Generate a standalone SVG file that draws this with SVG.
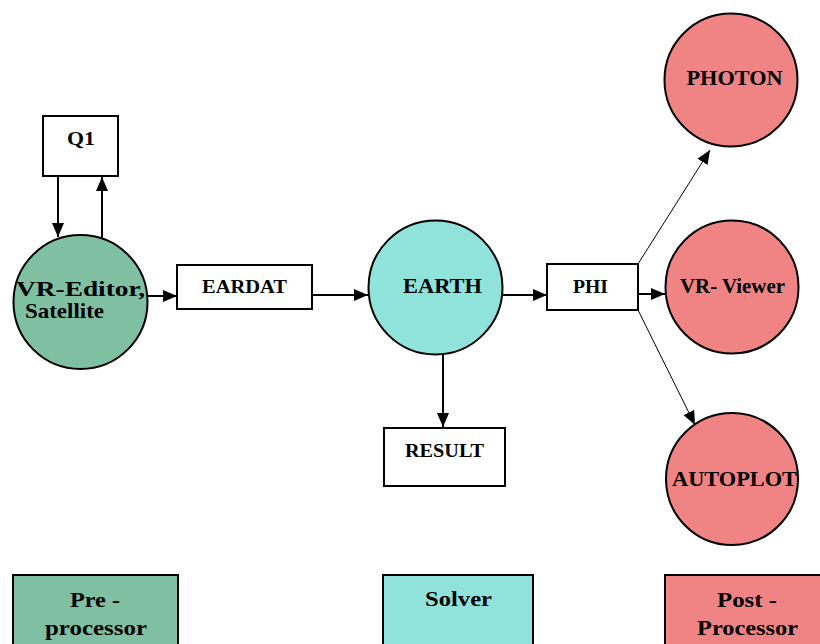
<svg xmlns="http://www.w3.org/2000/svg" width="820" height="644" viewBox="0 0 820 644" font-family="'Liberation Serif', 'DejaVu Serif', serif">
<style>
text{font-family:'Liberation Serif','DejaVu Serif',serif;font-weight:bold;fill:#000}
.box{fill:#fff;stroke:#000;stroke-width:2}
.pre{fill:#80c0a2;stroke:#000;stroke-width:2}
.sol{fill:#8fe3da;stroke:#000;stroke-width:2}
.post{fill:#f08484;stroke:#000;stroke-width:2}
.c{stroke:#000;stroke-width:2;fill:none}
.t{stroke:#000;stroke-width:1;fill:none}
.s{font-size:19px}
.m{font-size:21px}
.l{font-size:21px}
.v{font-size:21px}
</style>
<defs>
<marker id="ah" markerUnits="userSpaceOnUse" markerWidth="14" markerHeight="14" viewBox="0 0 14 14" refX="14" refY="7" orient="auto">
<path d="M0,1 L14,7 L0,13 Z" fill="#000"/>
</marker>
</defs>
<g id="connectors">
<line class="c" x1="58" y1="176" x2="58" y2="237" marker-end="url(#ah)"/>
<line class="c" x1="102" y1="239" x2="102" y2="177" marker-end="url(#ah)"/>
<line class="c" x1="147" y1="296" x2="177" y2="296" marker-end="url(#ah)"/>
<line class="c" x1="313" y1="295" x2="368" y2="295" marker-end="url(#ah)"/>
<line class="c" x1="503" y1="295" x2="547" y2="295" marker-end="url(#ah)"/>
<line class="c" x1="443" y1="355" x2="443" y2="427" marker-end="url(#ah)"/>
<line class="t" x1="638" y1="264" x2="710" y2="150" marker-end="url(#ah)"/>
<line class="c" x1="638" y1="294" x2="665" y2="294" marker-end="url(#ah)"/>
<line class="t" x1="638" y1="310" x2="695" y2="425" marker-end="url(#ah)"/>
</g>
<g id="q1">
<rect class="box" x="43" y="116" width="75" height="60"/>
<text class="s" x="81" y="145" text-anchor="middle" textLength="28" lengthAdjust="spacingAndGlyphs">Q1</text>
</g>
<g id="vr-editor">
<circle class="pre" cx="80.5" cy="302" r="67"/>
<text class="v" x="16" y="296" textLength="129" lengthAdjust="spacingAndGlyphs">VR-Editor,</text>
<text class="v" x="25" y="318" textLength="79" lengthAdjust="spacingAndGlyphs">Satellite</text>
</g>
<g id="eardat">
<rect class="box" x="177" y="265" width="135" height="44"/>
<text class="s" x="244.5" y="293" text-anchor="middle" textLength="85" lengthAdjust="spacingAndGlyphs">EARDAT</text>
</g>
<g id="earth">
<circle class="sol" cx="435.5" cy="287.5" r="67"/>
<text font-size="22" x="442.5" y="293" text-anchor="middle" textLength="79" lengthAdjust="spacingAndGlyphs">EARTH</text>
</g>
<g id="phi">
<rect class="box" x="547" y="264" width="91" height="46"/>
<text class="s" x="590.5" y="293" text-anchor="middle" textLength="35" lengthAdjust="spacingAndGlyphs">PHI</text>
</g>
<g id="result">
<rect class="box" x="384" y="428" width="121" height="58"/>
<text class="s" x="444.5" y="457" text-anchor="middle" textLength="79" lengthAdjust="spacingAndGlyphs">RESULT</text>
</g>
<g id="photon">
<circle class="post" cx="731" cy="80" r="66.5"/>
<text class="m" x="734.5" y="85" text-anchor="middle" textLength="96" lengthAdjust="spacingAndGlyphs">PHOTON</text>
</g>
<g id="vr-viewer">
<circle class="post" cx="732" cy="287" r="66.5"/>
<text class="m" x="732.5" y="293" text-anchor="middle" textLength="105" lengthAdjust="spacingAndGlyphs">VR- Viewer</text>
</g>
<g id="autoplot">
<circle class="post" cx="732" cy="479" r="66"/>
<text class="m" x="734.5" y="486" text-anchor="middle" textLength="125" lengthAdjust="spacingAndGlyphs">AUTOPLOT</text>
</g>
<g id="legend-pre">
<rect class="pre" x="13" y="575" width="165" height="80"/>
<text class="l" x="95" y="607" text-anchor="middle" textLength="50" lengthAdjust="spacingAndGlyphs">Pre -</text>
<text class="l" x="96" y="635" text-anchor="middle" textLength="102" lengthAdjust="spacingAndGlyphs">processor</text>
</g>
<g id="legend-solver">
<rect class="sol" x="383" y="575" width="150" height="80"/>
<text class="l" x="458.5" y="606" text-anchor="middle" textLength="67" lengthAdjust="spacingAndGlyphs">Solver</text>
</g>
<g id="legend-post">
<rect class="post" x="665" y="575" width="165" height="80"/>
<text class="l" x="747" y="607" text-anchor="middle" textLength="60" lengthAdjust="spacingAndGlyphs">Post -</text>
<text class="l" x="747.5" y="635" text-anchor="middle" textLength="101" lengthAdjust="spacingAndGlyphs">Processor</text>
</g>
</svg>
